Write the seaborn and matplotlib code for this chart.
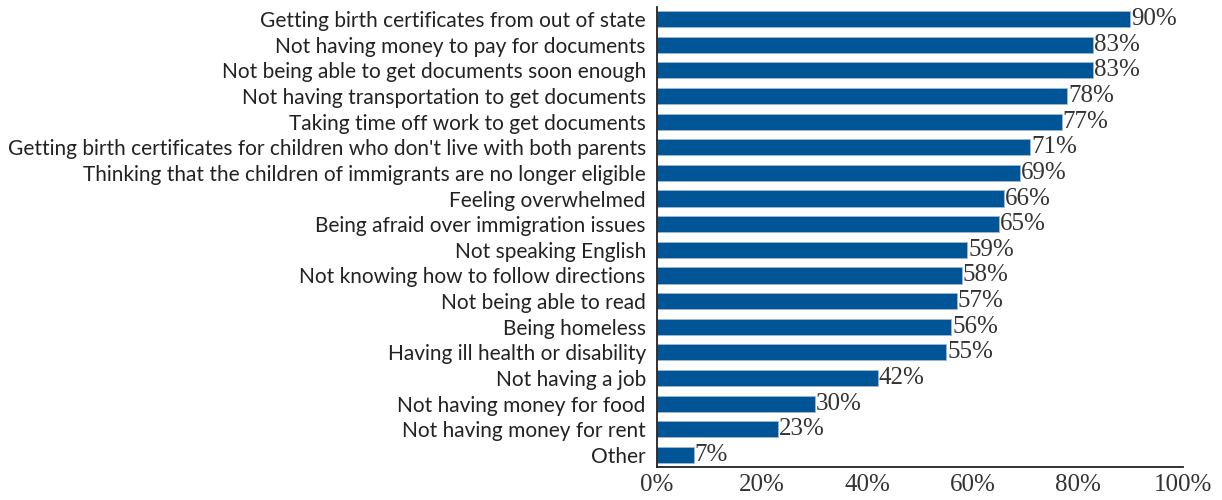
import matplotlib
matplotlib.use("Agg")
import matplotlib.pyplot as plt
import seaborn as sns
import pandas as pd

categories = [
    "Getting birth certificates from out of state",
    "Not having money to pay for documents",
    "Not being able to get documents soon enough",
    "Not having transportation to get documents",
    "Taking time off work to get documents",
    "Getting birth certificates for children who don't live with both parents",
    "Thinking that the children of immigrants are no longer eligible",
    "Feeling overwhelmed",
    "Being afraid over immigration issues",
    "Not speaking English",
    "Not knowing how to follow directions",
    "Not being able to read",
    "Being homeless",
    "Having ill health or disability",
    "Not having a job",
    "Not having money for food",
    "Not having money for rent",
    "Other",
]
values = [90, 83, 83, 78, 77, 71, 69, 66, 65, 59, 58, 57, 56, 55, 42, 30, 23, 7]
tick_values = [0, 20, 40, 60, 80, 100]
tick_labels = ["0%", "20%", "40%", "60%", "80%", "100%"]

df = pd.DataFrame({"reason": categories, "pct": values})

sns.set_style("white")
plt.rcParams["font.family"] = ["Lato", "DejaVu Sans"]

fig = plt.figure(figsize=(12.22, 5.0), dpi=100)
ax = fig.add_axes([0.5376, 0.066, 0.4304, 0.92])

bar_color = "#005596"
sns.barplot(data=df, x="pct", y="reason", color=bar_color, width=0.63,
            saturation=1, orient="h", ax=ax, edgecolor="#9fb8d4", linewidth=0.6)

serif = ["Liberation Serif", "DejaVu Serif"]
for i, v in enumerate(values):
    ax.text(v + 0.15, i, f"{v}%", va="center", ha="left", fontsize=18,
            family=serif, color="#333333")

ax.set_xlim(0, 100)
ax.set_ylim(17.47, -0.47)
ax.set_xticks(tick_values)
ax.set_xticklabels(tick_labels, family=serif, fontsize=18, color="#333333")
ax.set_xlabel("")
ax.set_ylabel("")
ax.tick_params(axis="x", direction="in", length=10, width=1.3, color="#222222", pad=5)
ax.tick_params(axis="y", length=0, pad=8, labelsize=15, labelcolor="#222222")

for side in ["top", "right"]:
    ax.spines[side].set_visible(False)
for side in ["left", "bottom"]:
    ax.spines[side].set_color("#222222")
    ax.spines[side].set_linewidth(1.3)

fig.savefig("out.png", dpi=100)
